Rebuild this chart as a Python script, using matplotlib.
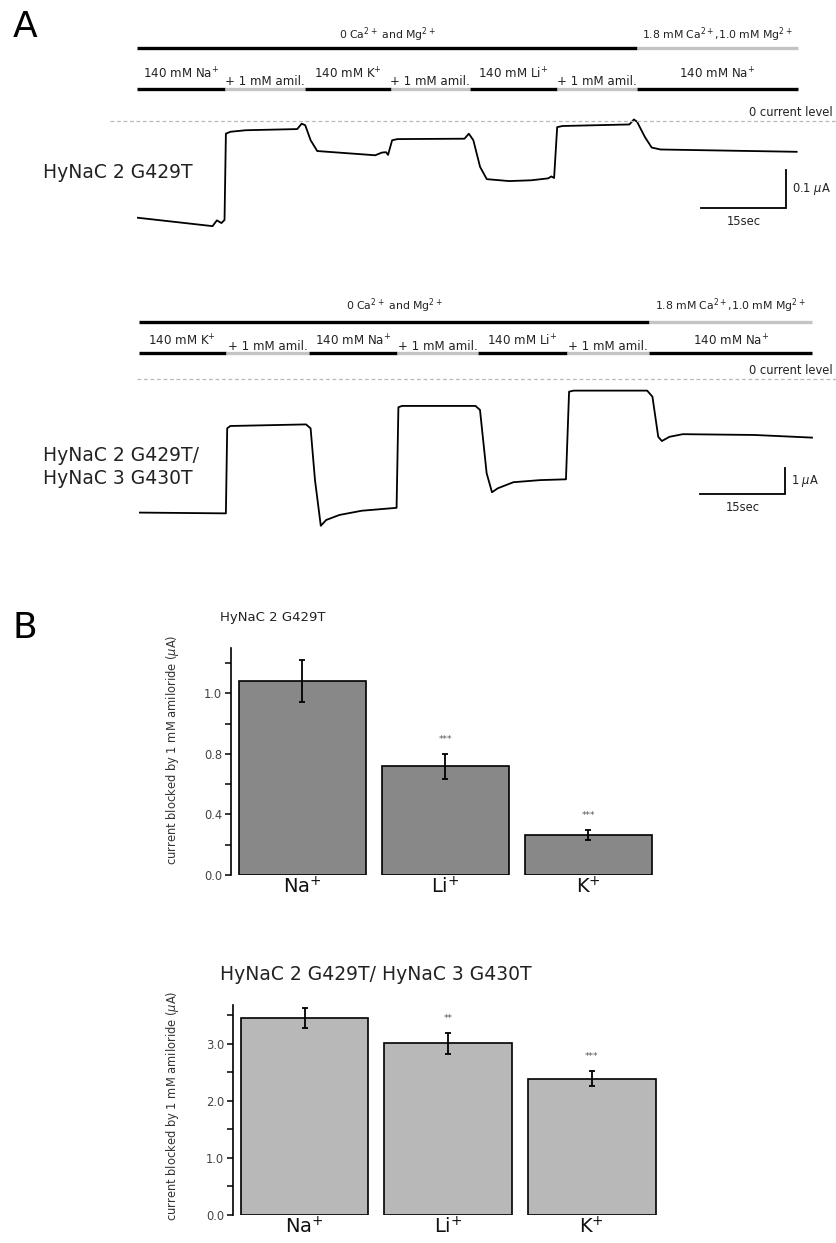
import numpy as np
import matplotlib
matplotlib.use("Agg")
import matplotlib.pyplot as plt
import matplotlib.transforms as mtransforms

plt.rcParams['font.family'] = ['DejaVu Sans']
plt.rcParams['mathtext.default'] = 'regular'

W, H = 837, 1243

# ---------------- panel A: two-electrode recordings ----------------
# time in s, current in uA (15 s and 0.1 / 1 uA scale bars)
trace1_t = [0.0, 13.27, 14.04, 14.83, 15.38, 15.62, 16.40, 19.14, 28.15, 28.93, 29.56,
            30.51, 31.67, 41.86, 43.04, 43.76, 44.11, 44.83, 45.78, 57.54, 58.31, 59.10,
            60.28, 61.46, 65.38, 69.24, 72.23, 72.81, 73.29, 73.83, 74.78, 86.52, 87.31,
            87.87, 89.26, 90.44, 92.00, 115.91]
trace1_i = [-0.251, -0.273, -0.258, -0.265, -0.257, -0.033, -0.028, -0.024, -0.021, -0.007,
            -0.011, -0.050, -0.078, -0.089, -0.082, -0.081, -0.088, -0.050, -0.047, -0.046,
            -0.033, -0.050, -0.119, -0.151, -0.156, -0.154, -0.149, -0.144, -0.148, -0.016,
            -0.013, -0.009, 0.004, -0.002, -0.042, -0.069, -0.074, -0.080]

trace2_t = [0.0, 15.29, 15.52, 16.06, 29.38, 30.18, 30.95, 31.97, 32.92, 35.25, 39.17,
            45.29, 45.61, 46.24, 59.16, 59.95, 61.12, 62.06, 63.08, 65.82, 70.53, 75.06,
            75.61, 76.40, 89.33, 90.26, 91.28, 91.92, 93.25, 95.59, 108.14, 118.31]
trace2_i = [-5.06, -5.09, -1.87, -1.78, -1.72, -1.87, -3.83, -5.56, -5.34, -5.15, -4.99,
            -4.88, -1.07, -1.02, -1.02, -1.17, -3.57, -4.29, -4.14, -3.91, -3.83, -3.80,
            -0.48, -0.44, -0.44, -0.67, -2.19, -2.35, -2.19, -2.09, -2.12, -2.22]

# solution exchange times (s)
sol1_edges = [0.0, 15.47, 29.49, 44.60, 58.47, 73.76, 87.93, 116.06]
sol1_labels = ['140 mM Na$^{+}$', '+ 1 mM amil.', '140 mM K$^{+}$', '+ 1 mM amil.',
               '140 mM Li$^{+}$', '+ 1 mM amil.', '140 mM Na$^{+}$']
sol2_edges = [0.0, 15.29, 29.93, 45.45, 59.54, 75.22, 89.72, 118.31]
sol2_labels = ['140 mM K$^{+}$', '+ 1 mM amil.', '140 mM Na$^{+}$', '+ 1 mM amil.',
               '140 mM Li$^{+}$', '+ 1 mM amil.', '140 mM Na$^{+}$']
divalent_labels = ['0 Ca$^{2+}$ and Mg$^{2+}$', '1.8 mM Ca$^{2+}$,1.0 mM Mg$^{2+}$']

# ---------------- panel B: amiloride-blocked current ----------------
ions = ['Na$^{+}$', 'Li$^{+}$', 'K$^{+}$']
g429_mean = [1.28, 0.718, 0.267]
g429_sem = [0.14, 0.082, 0.033]
g429_sig = ['', '***', '***']
het_mean = [3.46, 3.01, 2.39]
het_sem = [0.175, 0.18, 0.13]
het_sig = ['', '**', '***']

fig = plt.figure(figsize=(W / 100, H / 100), dpi=100)


def fy(y):
    return 1 - y / H


def px_axes(left, top, right, bottom):
    return fig.add_axes([left / W, fy(bottom), (right - left) / W, (bottom - top) / H])


def draw_recording(ax, t, cur, edges, labels, rows, scale, dash_start):
    trans = mtransforms.blended_transform_factory(ax.transData, fig.transFigure)
    y_top_txt, y_top_bar, y_ion_txt, y_amil_txt, y_row_bar, y_zero_txt = rows
    ax.plot(t, cur, color='black', lw=1.3)
    ax.axis('off')

    # divalent cation bar
    for (a, b), col, lab in zip([(edges[0], edges[6]), (edges[6], edges[7])],
                                ['black', '#c4c4c4'], divalent_labels):
        ax.plot([a, b], [fy(y_top_bar)] * 2, transform=trans, color=col, lw=2.4,
                solid_capstyle='butt', clip_on=False)
        ax.text((a + b) / 2, fy(y_top_txt), lab, transform=trans, ha='center',
                va='baseline', fontsize=7.8, color='#222')

    # monovalent cation / amiloride bar
    for k, lab in enumerate(labels):
        a, b = edges[k], edges[k + 1]
        amil = lab.startswith('+')
        ax.plot([a, b], [fy(y_row_bar)] * 2, transform=trans,
                color='#c4c4c4' if amil else 'black', lw=2.4,
                solid_capstyle='butt', clip_on=False)
        ax.text((a + b) / 2, fy(y_amil_txt if amil else y_ion_txt), lab, transform=trans,
                ha='center', va='baseline', fontsize=8.6, color='#222')

    # zero current level
    x0, x1 = ax.get_xlim()
    ax.plot([x0 + dash_start, x1], [0, 0], ls=(0, (3, 2.2)), color='#b8b8b8', lw=0.9,
            clip_on=False)
    ax.text(x1 - 0.7, fy(y_zero_txt), '0 current level', transform=trans, ha='right',
            va='center', fontsize=8.3, color='#222')

    # scale bars
    t0, i0, di, ilab = scale
    ax.plot([t0, t0 + 15, t0 + 15], [i0, i0, i0 + di], color='black', lw=1.3,
            solid_joinstyle='miter')
    ax.annotate('15sec', (t0 + 7.5, i0), xytext=(0, -5), textcoords='offset points',
                ha='center', va='top', fontsize=8.3, color='#222')
    ax.annotate(ilab, (t0 + 15, i0 + di / 2), xytext=(4, 0), textcoords='offset points',
                ha='left', va='center', fontsize=8.3, color='#222')


# trace 1
ax1 = px_axes(137, 100, 837, 240)
ax1.set_xlim(0, 123.0)
ax1.set_ylim(-0.309, 0.0545)
draw_recording(ax1, trace1_t, trace1_i, sol1_edges, sol1_labels,
               (39, 48, 79, 85, 89, 113), (99.07, -0.2268, 0.1, '0.1 $\\mathit{\\mu}$A'), -4.7)

# trace 2
ax2 = px_axes(138.9, 370, 837, 530)
ax2.set_xlim(0, 122.7)
ax2.set_ylim(-5.72, 0.341)
draw_recording(ax2, trace2_t, trace2_i, sol2_edges, sol2_labels,
               (310, 322, 346, 350, 353, 370), (98.58, -4.356, 1.0, '1 $\\mathit{\\mu}$A'), -0.3)

fig.text(43 / W, fy(172), 'HyNaC 2 G429T', fontsize=13.5, va='center', ha='left', color='#222')
fig.text(43 / W, fy(467), 'HyNaC 2 G429T/\nHyNaC 3 G430T', fontsize=13.5, va='center',
         ha='left', color='#222', linespacing=1.25)
fig.text(13 / W, fy(27), 'A', fontsize=26, va='center', ha='left')
fig.text(13 / W, fy(628), 'B', fontsize=26, va='center', ha='left')


def draw_bars(ax, mean, sem, sig, color, ymax, major, major_labels, minor):
    x = np.arange(len(ions))
    ax.bar(x, mean, width=0.89, color=color, edgecolor='black', linewidth=1.2)
    ax.errorbar(x, mean, yerr=sem, fmt='none', ecolor='black', elinewidth=1.3,
                capsize=2.5, capthick=1.3)
    for xi, m, s, lab in zip(x, mean, sem, sig):
        if lab:
            ax.annotate(lab, (xi, m + s), xytext=(0, 7), textcoords='offset points',
                        ha='center', va='bottom', fontsize=6.5, color='#555')
    ax.set_xlim(-0.5, 2.5)
    ax.set_ylim(0, ymax)
    for side in ['top', 'right', 'bottom']:
        ax.spines[side].set_visible(False)
    ax.spines['left'].set_linewidth(1.2)
    ax.set_yticks(major)
    ax.set_yticklabels(major_labels)
    ax.set_yticks(minor, minor=True)
    ax.tick_params(axis='y', which='both', direction='out', length=4.3, width=1.1,
                   labelsize=8.3, labelcolor='#444', pad=2)
    ax.set_xticks(x)
    ax.set_xticklabels(ions)
    ax.tick_params(axis='x', length=0, labelsize=14, pad=1, labelcolor='#111')
    ax.set_ylabel('current blocked by 1 mM amiloride ($\\mathit{\\mu}$A)', fontsize=8.3,
                  color='#333')


axb1 = px_axes(231, 648, 660, 875)
draw_bars(axb1, g429_mean, g429_sem, g429_sig, '#888888', 1.5,
          [0, 0.4, 0.8, 1.2], ['0.0', '0.4', '0.8', '1.0'], [0.2, 0.6, 1.0, 1.4])
axb1.yaxis.set_label_coords(-50 / 429, 0.55)
fig.text(220 / W, fy(618), 'HyNaC 2 G429T', fontsize=9.5, va='center', ha='left', color='#222')

axb2 = px_axes(232.7, 1005, 663.5, 1215)
draw_bars(axb2, het_mean, het_sem, het_sig, '#b8b8b8', 3.68,
          [0, 1, 2, 3], ['0.0', '1.0', '2.0', '3.0'], [0.5, 1.5, 2.5, 3.5])
axb2.yaxis.set_label_coords(-52 / 431, 0.52)
fig.text(220 / W, fy(975), 'HyNaC 2 G429T/ HyNaC 3 G430T', fontsize=13.5, va='center',
         ha='left', color='#222')

fig.savefig('out.png', dpi=100)
